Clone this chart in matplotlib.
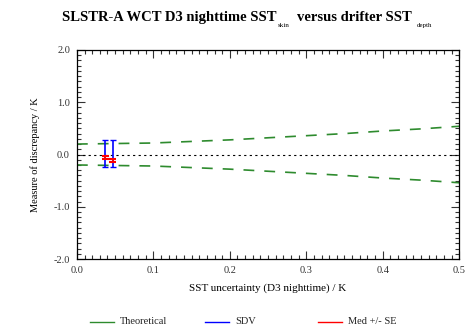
import matplotlib
matplotlib.use("Agg")
import matplotlib.pyplot as plt
from matplotlib.ticker import MultipleLocator, FormatStrFormatter
from matplotlib.lines import Line2D

plt.rcParams['font.family'] = ['Liberation Serif', 'DejaVu Serif']

# Theoretical envelope
theo_x = [0.0, 0.05, 0.1, 0.15, 0.2, 0.25, 0.3, 0.35, 0.4, 0.45, 0.5]
theo_upper = [0.20, 0.21, 0.22, 0.25, 0.28, 0.32, 0.36, 0.40, 0.45, 0.49, 0.54]
theo_lower = [-0.20, -0.21, -0.22, -0.25, -0.28, -0.32, -0.36, -0.40, -0.45, -0.49, -0.54]

# Binned statistics
bin_x = [0.037, 0.047]
sdv_upper = [0.27, 0.27]
sdv_lower = [-0.23, -0.23]
med_upper = [-0.025, -0.095]
med_lower = [-0.095, -0.14]

legend_labels = ['Theoretical', 'SDV', 'Med +/- SE']
legend_colors = ['#2e8b2e', 'blue', 'red']

title_parts = ['SLSTR-A WCT D3 nighttime SST', 'skin', 'versus drifter SST', 'depth']

fig = plt.figure(figsize=(4.69, 3.33), dpi=100)
ax = fig.add_axes([0.164, 0.222, 0.815, 0.628])

green = '#2e8b2e'
ax.plot(theo_x, theo_upper, color=green, lw=1.2, dashes=(6.5, 6))
ax.plot(theo_x, theo_lower, color=green, lw=1.2, dashes=(6.5, 6))
ax.axhline(0.0, color='black', lw=0.8, ls=(0, (2, 3)))

ax.vlines(bin_x, sdv_lower, sdv_upper, color='blue', lw=1.2)
capw = 0.004
for xx, lo, hi in zip(bin_x, sdv_lower, sdv_upper):
    ax.hlines([lo, hi], xx - capw, xx + capw, color='blue', lw=1.0)
capr = 0.0045
for xx, lo, hi in zip(bin_x, med_lower, med_upper):
    ax.vlines(xx, lo, hi, color='red', lw=1.2)
    ax.hlines([lo, hi], xx - capr, xx + capr, color='red', lw=1.5)

ax.set_xlim(0, 0.5)
ax.set_ylim(-2.0, 2.0)
ax.xaxis.set_major_locator(MultipleLocator(0.1))
ax.xaxis.set_minor_locator(MultipleLocator(0.01))
ax.yaxis.set_major_locator(MultipleLocator(1.0))
ax.yaxis.set_minor_locator(MultipleLocator(0.1))
ax.tick_params(which='both', direction='in', top=True, right=True, labelsize=7.5,
               colors='#333333', pad=5)
ax.tick_params(which='major', length=6, width=0.8)
ax.tick_params(which='minor', length=3, width=0.8)
ax.xaxis.set_major_formatter(FormatStrFormatter('%.1f'))
ax.yaxis.set_major_formatter(FormatStrFormatter('%.1f'))
for s in ax.spines.values():
    s.set_linewidth(0.9)

ax.set_xlabel('SST uncertainty (D3 nighttime) / K', fontsize=8, labelpad=6)
ax.set_ylabel('Measure of discrepancy / K', fontsize=7.5, labelpad=10)

# Title built from pieces (small, lowered subscripts), positions in pixels
W, H = 469.0, 333.0
title_x = [62, 278, 297, 417]
title_y = [21, 27, 21, 27]
title_size = [10.5, 5.0, 10.5, 5.0]
title_weight = ['bold', 'normal', 'bold', 'normal']
for txt, xp, yp, fs, fw in zip(title_parts, title_x, title_y, title_size, title_weight):
    fig.text(xp / W, 1 - yp / H, txt, ha='left', va='baseline', fontsize=fs, fontweight=fw)

# legend drawn manually at figure level
leg_y = 1 - 322 / 333
line_x0 = [90, 205, 318]
for x0, lab, col in zip(line_x0, legend_labels, legend_colors):
    fig.add_artist(Line2D([x0 / W, (x0 + 24) / W], [leg_y, leg_y], color=col, lw=1.0,
                          transform=fig.transFigure))
    fig.text((x0 + 30) / W, leg_y, lab, ha='left', va='center', fontsize=7.5, color='#222222')

fig.savefig('out.png', dpi=100)
